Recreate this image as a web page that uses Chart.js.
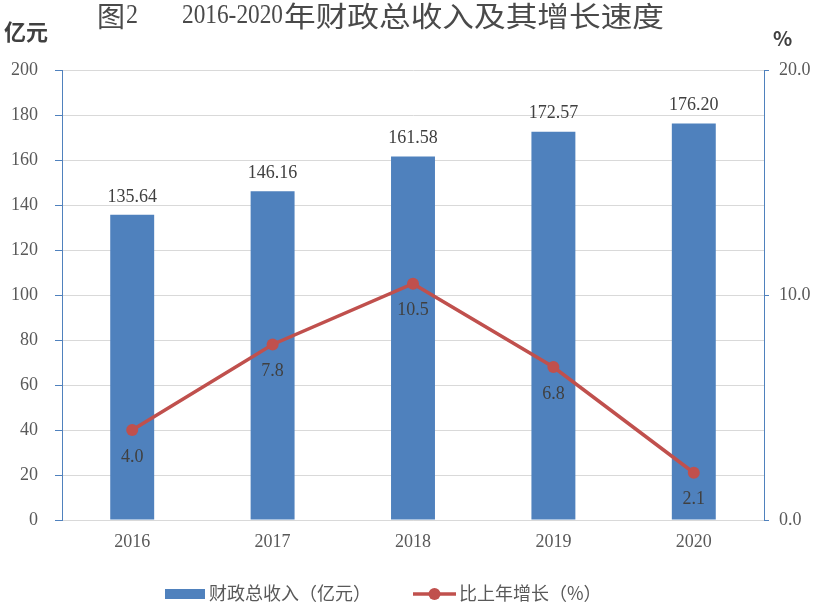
<!DOCTYPE html>
<html>
<head>
<meta charset="utf-8">
<script src="https://cdn.jsdelivr.net/npm/chart.js@4/dist/chart.umd.min.js"></script>
<style>
  html, body { margin: 0; padding: 0; background: #fff; }
  #wrap { width: 820px; height: 604px; position: relative; }
</style>
</head>
<body>
<div id="wrap"><canvas id="barChart" width="820" height="604"></canvas></div>
<script>
// data
var years = ['2016', '2017', '2018', '2019', '2020'];
var revenue = [135.64, 146.16, 161.58, 172.57, 176.20];
var growth = [4.0, 7.8, 10.5, 6.8, 2.1];
var leftTicks = [0, 20, 40, 60, 80, 100, 120, 140, 160, 180, 200];
var rightTicks = [0, 10, 20];

var BLUE = '#4F81BD';
var RED = '#C0504D';
var GREY = '#595959';
var NUM_FONT = "'Liberation Serif', 'Noto Sans CJK SC', serif";
var CJK_FONT = "'Noto Sans CJK SC', sans-serif";

// fit a piece of text into [x0, x1] by squeezing/stretching horizontally
function fitText(ctx, text, x0, x1, y) {
    var w = ctx.measureText(text).width;
    ctx.save();
    ctx.translate(x0, y);
    ctx.scale((x1 - x0) / w, 1);
    ctx.textAlign = 'left';
    ctx.fillText(text, 0, 0);
    ctx.restore();
}

// titles, unit labels, value labels and legend
var extras = {
    id: 'extras',
    afterDatasetsDraw: function (chart) {
        var ctx = chart.ctx;
        ctx.save();
        ctx.textBaseline = 'middle';
        ctx.textAlign = 'center';

        // bar value labels
        ctx.fillStyle = '#404040';
        ctx.font = '18px ' + NUM_FONT;
        chart.getDatasetMeta(1).data.forEach(function (bar, i) {
            ctx.fillText(revenue[i].toFixed(2), bar.x, bar.y - 18);
        });
        // line value labels
        chart.getDatasetMeta(0).data.forEach(function (pt, i) {
            ctx.fillText(growth[i].toFixed(1), pt.x, pt.y + 27);
        });
        ctx.restore();
    },
    afterDraw: function (chart) {
        var ctx = chart.ctx;
        ctx.save();
        ctx.textBaseline = 'middle';

        // title, pieced so the spacing follows the original
        ctx.fillStyle = '#4a4a4a';
        ctx.font = '28px ' + CJK_FONT;
        fitText(ctx, '图', 97, 125, 16);
        ctx.font = '27px ' + NUM_FONT;
        fitText(ctx, '2', 126, 138, 16);
        fitText(ctx, '2016-2020', 182, 283, 16);
        ctx.font = '28px ' + CJK_FONT;
        fitText(ctx, '年财政总收入及其增长速度', 284, 664, 16);

        // units
        ctx.fillStyle = '#404040';
        ctx.textAlign = 'left';
        ctx.font = 'bold 22px ' + CJK_FONT;
        ctx.fillText('亿元', 4, 32);
        ctx.font = 'bold 20px ' + CJK_FONT;
        ctx.fillText('%', 773, 38);

        // legend
        ctx.fillStyle = BLUE;
        ctx.fillRect(165, 589, 40, 10);
        ctx.fillStyle = GREY;
        ctx.font = '18px ' + CJK_FONT;
        ctx.fillText('财政总收入（亿元）', 209, 593);

        ctx.strokeStyle = RED;
        ctx.lineWidth = 3.5;
        ctx.beginPath();
        ctx.moveTo(413, 594);
        ctx.lineTo(456, 594);
        ctx.stroke();
        ctx.fillStyle = RED;
        ctx.beginPath();
        ctx.arc(434.5, 594, 6, 0, Math.PI * 2);
        ctx.fill();
        ctx.fillStyle = GREY;
        ctx.fillText('比上年增长（%）', 459, 593);
        ctx.restore();
    }
};

new Chart(document.querySelector('#barChart'), {
    type: 'bar',
    data: {
        labels: years,
        datasets: [{
            type: 'line',
            label: '比上年增长（%）',
            data: growth,
            yAxisID: 'y1',
            borderColor: RED,
            backgroundColor: RED,
            borderWidth: 3.5,
            pointRadius: 6,
            pointBackgroundColor: RED,
            pointBorderWidth: 0,
            tension: 0,
            order: 0
        }, {
            label: '财政总收入（亿元）',
            data: revenue,
            yAxisID: 'y',
            backgroundColor: BLUE,
            categoryPercentage: 1,
            barPercentage: 0.313,
            order: 1
        }]
    },
    options: {
        responsive: false,
        animation: false,
        devicePixelRatio: 1,
        layout: { padding: { top: 70, bottom: 44, left: 0, right: 0 } },
        plugins: {
            legend: { display: false },
            tooltip: { enabled: false }
        },
        scales: {
            x: {
                grid: { display: false },
                border: { display: true, color: '#D9D9D9' },
                ticks: { color: GREY, font: { family: NUM_FONT, size: 18 }, padding: 3 },
                afterFit: function (s) { s.height = 40; }
            },
            y: {
                position: 'left',
                min: 0,
                max: 200,
                afterBuildTicks: function (s) { s.ticks = leftTicks.map(function (v) { return { value: v }; }); },
                grid: { color: '#D9D9D9', tickColor: BLUE, tickLength: 7, lineWidth: 1 },
                border: { display: true, color: BLUE, width: 1 },
                ticks: { color: GREY, font: { family: NUM_FONT, size: 18 }, padding: 17 },
                afterFit: function (s) { s.width = 62; }
            },
            y1: {
                position: 'right',
                min: 0,
                max: 20,
                afterBuildTicks: function (s) { s.ticks = rightTicks.map(function (v) { return { value: v }; }); },
                grid: { drawOnChartArea: false, tickColor: BLUE, tickLength: 5 },
                border: { display: true, color: BLUE, width: 1 },
                ticks: {
                    color: GREY,
                    font: { family: NUM_FONT, size: 18 },
                    padding: 10,
                    callback: function (v) { return Number(v).toFixed(1); }
                },
                afterFit: function (s) { s.width = 56; }
            }
        }
    },
    plugins: [extras]
});
</script>
</body>
</html>
